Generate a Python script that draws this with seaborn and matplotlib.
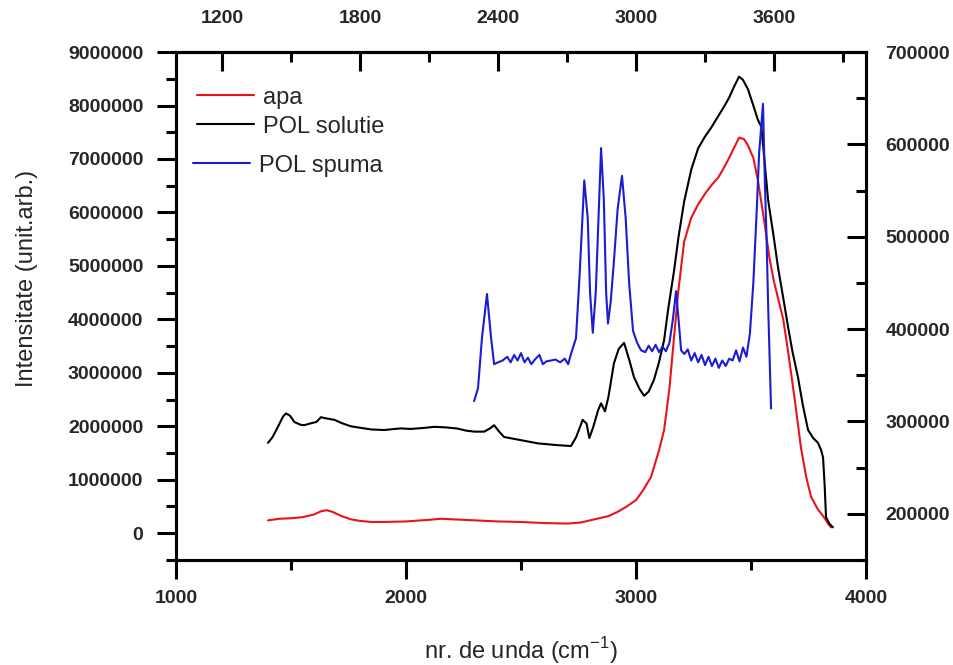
import numpy as np
import pandas as pd
import matplotlib
matplotlib.use("Agg")
import matplotlib.pyplot as plt
from matplotlib.ticker import MultipleLocator, FixedLocator
import seaborn as sns

# ---- data ----
apa_x = [1400, 1450, 1500, 1550, 1600, 1630, 1655, 1680, 1720, 1760, 1800, 1850, 1900,
         2000, 2100, 2150, 2200, 2300, 2400, 2500, 2600, 2700, 2760, 2800, 2840, 2880,
         2920, 2960, 3000, 3030, 3065, 3100, 3122, 3145, 3166, 3183, 3209, 3240, 3270,
         3300, 3330, 3357, 3380, 3400, 3425, 3448, 3470, 3487, 3510, 3530, 3557, 3580,
         3600, 3640, 3661, 3690, 3717, 3740, 3761, 3790, 3817, 3835, 3848]
apa_y = [0.24, 0.27, 0.28, 0.30, 0.35, 0.41, 0.43, 0.40, 0.32, 0.26, 0.23, 0.21, 0.21,
         0.22, 0.25, 0.27, 0.26, 0.24, 0.22, 0.21, 0.19, 0.18, 0.20, 0.24, 0.28, 0.32,
         0.40, 0.50, 0.62, 0.80, 1.05, 1.55, 1.93, 2.70, 3.70, 4.50, 5.45, 5.90, 6.15,
         6.35, 6.52, 6.65, 6.82, 6.98, 7.20, 7.40, 7.37, 7.25, 7.02, 6.60, 5.85, 5.15,
         4.70, 4.00, 3.40, 2.50, 1.60, 1.05, 0.68, 0.45, 0.30, 0.18, 0.11]
apa_y = [v * 1e6 for v in apa_y]

sol_x = [1400, 1420, 1443, 1465, 1478, 1495, 1515, 1540, 1557, 1590, 1610, 1630, 1650,
         1689, 1720, 1760, 1804, 1850, 1906, 1950, 1978, 2020, 2080, 2123, 2170, 2220,
         2260, 2296, 2340, 2365, 2383, 2405, 2426, 2500, 2574, 2650, 2717, 2740, 2768,
         2785, 2797, 2815, 2835, 2848, 2865, 2880, 2904, 2925, 2948, 2970, 2991, 3015,
         3035, 3055, 3078, 3100, 3122, 3140, 3165, 3185, 3209, 3240, 3270, 3300, 3326,
         3350, 3383, 3405, 3426, 3448, 3465, 3487, 3510, 3530, 3545, 3560, 3574, 3600,
         3617, 3640, 3661, 3680, 3704, 3725, 3748, 3770, 3791, 3805, 3813, 3820, 3826,
         3840, 3856]
sol_y = [1.69, 1.80, 1.99, 2.18, 2.24, 2.20, 2.08, 2.03, 2.02, 2.06, 2.08, 2.17, 2.15,
         2.12, 2.06, 2.00, 1.97, 1.94, 1.93, 1.95, 1.96, 1.95, 1.97, 1.99, 1.98, 1.96,
         1.92, 1.90, 1.90, 1.96, 2.02, 1.90, 1.80, 1.74, 1.68, 1.65, 1.63, 1.80, 2.12,
         2.05, 1.78, 2.00, 2.30, 2.43, 2.28, 2.55, 3.18, 3.45, 3.56, 3.25, 2.92, 2.70,
         2.57, 2.65, 2.87, 3.20, 3.61, 4.20, 4.90, 5.55, 6.20, 6.80, 7.20, 7.42, 7.58,
         7.75, 7.98, 8.15, 8.35, 8.54, 8.48, 8.30, 8.00, 7.73, 7.60, 6.90, 6.24, 5.50,
         4.98, 4.40, 3.86, 3.40, 2.92, 2.40, 1.93, 1.78, 1.69, 1.55, 1.42, 0.90, 0.30,
         0.18, 0.11]
sol_y = [v * 1e6 for v in sol_y]

spu_x = [2296, 2313, 2330, 2352, 2370, 2383, 2400, 2420, 2440, 2455, 2470, 2485, 2500,
         2515, 2530, 2545, 2560, 2580, 2595, 2610, 2630, 2650, 2670, 2690, 2705, 2717,
         2739, 2755, 2775, 2790, 2800, 2812, 2825, 2848, 2860, 2870, 2878, 2890, 2904,
         2920, 2939, 2955, 2970, 2987, 3005, 3022, 3040, 3055, 3070, 3085, 3100, 3115,
         3130, 3145, 3160, 3174, 3185, 3196, 3210, 3225, 3240, 3255, 3270, 3285, 3300,
         3315, 3330, 3345, 3360, 3375, 3390, 3405, 3420, 3435, 3450, 3465, 3480, 3495,
         3510, 3525, 3535, 3552, 3560, 3567, 3575, 3587]
spu_y = [322000, 336000, 390000, 438000, 390000, 362000, 364000, 366000, 370000, 364000,
         372000, 366000, 374000, 364000, 369000, 362000, 367000, 372000, 362000, 365000,
         366000, 367000, 364000, 368000, 362000, 373000, 390000, 460000, 561000, 520000,
         440000, 396000, 440000, 596000, 540000, 440000, 406000, 430000, 474000, 530000,
         566000, 520000, 450000, 398000, 385000, 377000, 375000, 382000, 376000, 383000,
         375000, 381000, 376000, 385000, 410000, 441000, 410000, 377000, 373000, 378000,
         366000, 374000, 364000, 372000, 361000, 370000, 360000, 368000, 358000, 366000,
         360000, 368000, 366000, 377000, 365000, 380000, 370000, 395000, 450000, 530000,
         590000, 644000, 560000, 503000, 420000, 314000]

labels = ["apa", "POL solutie", "POL spuma"]
colors = ["#e8141a", "#000000", "#1c1cd2"]
bottom_ticks = [1000, 2000, 3000, 4000]
top_ticks = [1200, 1800, 2400, 3000, 3600]
left_ticks = [0, 1000000, 2000000, 3000000, 4000000, 5000000, 6000000, 7000000, 8000000, 9000000]
right_ticks = [200000, 300000, 400000, 500000, 600000, 700000]

df_left = pd.concat([
    pd.DataFrame({"x": apa_x, "y": apa_y, "serie": labels[0]}),
    pd.DataFrame({"x": sol_x, "y": sol_y, "serie": labels[1]}),
])
df_right = pd.DataFrame({"x": spu_x, "y": spu_y, "serie": labels[2]})

# ---- style ----
sns.set_theme(style="white")
plt.rcParams["font.family"] = ["Liberation Sans", "DejaVu Sans"]
plt.rcParams["axes.linewidth"] = 2.2
plt.rcParams["mathtext.fontset"] = "custom"
plt.rcParams["mathtext.rm"] = "Liberation Sans"

fig = plt.figure(figsize=(9.54, 6.65), dpi=100)
ax = fig.add_axes([0.1845, 0.158, 0.7233, 0.7637])

sns.lineplot(data=df_left, x="x", y="y", hue="serie", palette=colors[:2],
             sort=False, estimator=None, linewidth=1.5, ax=ax, legend=False)
ax2 = ax.twinx()
sns.lineplot(data=df_right, x="x", y="y", hue="serie", palette=colors[2:],
             sort=False, estimator=None, linewidth=1.5, ax=ax2, legend=False)

ax.set_xlim(1000, 4000)
ax.set_ylim(-500000, 9000000)
ax2.set_ylim(150000, 700000)

tick_font = dict(fontsize=14, fontweight="bold")

ax.xaxis.set_major_locator(FixedLocator(bottom_ticks))
ax.xaxis.set_minor_locator(MultipleLocator(500))
ax.yaxis.set_major_locator(FixedLocator(left_ticks))
ax.yaxis.set_minor_locator(MultipleLocator(500000))
ax.set_xticklabels([str(t) for t in bottom_ticks], **tick_font)
ax.set_yticklabels([str(t) for t in left_ticks], **tick_font)
ax.tick_params(axis="both", which="major", direction="out", length=13.5, width=2.2,
               color="black", pad=8, bottom=True, left=True, top=False, right=False)
ax.tick_params(axis="both", which="minor", direction="out", length=7, width=2.2,
               color="black", bottom=True, left=True, top=False, right=False)
ax.tick_params(axis="y", which="major", pad=10)

ax2.yaxis.set_major_locator(FixedLocator(right_ticks))
ax2.yaxis.set_minor_locator(MultipleLocator(50000))
ax2.set_yticklabels([str(t) for t in right_ticks], **tick_font)
ax2.tick_params(axis="y", which="major", direction="in", length=13.5, width=2.2,
                color="black", pad=14, right=True, left=False)
ax2.tick_params(axis="y", which="minor", direction="in", length=7, width=2.2,
                color="black", right=True, left=False)

sec = ax.secondary_xaxis("top")
sec.xaxis.set_major_locator(FixedLocator(top_ticks))
sec.xaxis.set_minor_locator(FixedLocator([1500, 2100, 2700, 3300, 3900]))
sec.set_xticklabels([str(t) for t in top_ticks], **tick_font)
sec.tick_params(axis="x", which="major", direction="in", length=13.5, width=2.2,
                color="black", pad=18)
sec.tick_params(axis="x", which="minor", direction="in", length=7, width=2.2,
                color="black")
sec.spines["top"].set_linewidth(2.2)

for a in (ax, ax2):
    for s in a.spines.values():
        s.set_color("black")
        s.set_linewidth(2.2)

ax.set_xlabel("nr. de unda (cm$^{\\mathregular{-1}}$)", fontsize=17)
ax.xaxis.set_label_coords(0.5, -0.148)
ax.set_ylabel("Intensitate (unit.arb.)", fontsize=17)
ax.yaxis.set_label_coords(-0.2, 0.555)
ax2.set_ylabel("")

handles = [plt.Line2D([], [], color=c, lw=1.5) for c in colors]
leg1 = ax2.legend(handles[:2], labels[:2], loc="upper left", bbox_to_anchor=(0.0, 0.974),
                  frameon=False, fontsize=17, handlelength=2.4, handletextpad=0.4,
                  labelspacing=0.3)
ax2.add_artist(leg1)
ax2.legend(handles[2:], labels[2:], loc="upper left", bbox_to_anchor=(-0.006, 0.84),
           frameon=False, fontsize=17, handlelength=2.4, handletextpad=0.4)

fig.savefig("out.png", dpi=100)
